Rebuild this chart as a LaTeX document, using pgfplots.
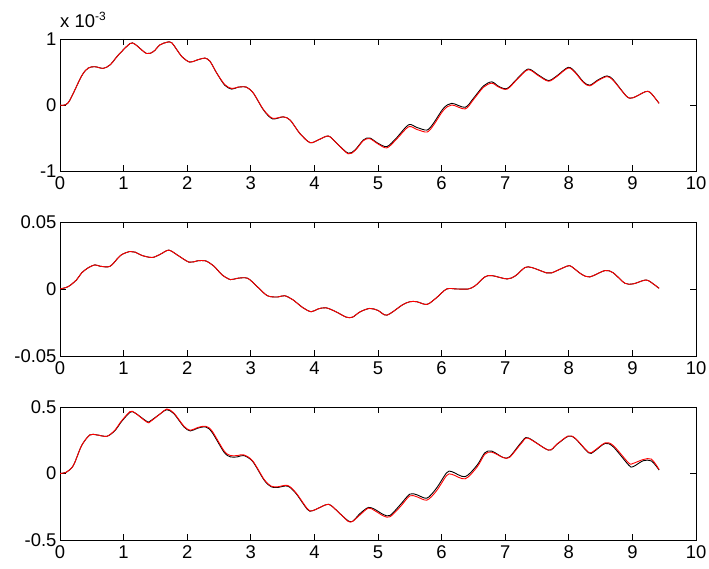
\documentclass[border=0pt]{standalone}
\usepackage{fontspec}
\setmainfont{Liberation Sans}
\usepackage{pgfplots}
\usepackage{pgfplotstable}
\pgfplotsset{compat=1.18}

\pgfplotstableread{
x y
0 0
0.13 0.035
0.34 0.44
0.445 0.56
0.55 0.58
0.68 0.555
0.79 0.61
0.92 0.76
1.10 0.93
1.18 0.92
1.36 0.78
1.47 0.81
1.57 0.91
1.68 0.95
1.76 0.94
1.91 0.74
2.04 0.65
2.15 0.68
2.28 0.71
2.36 0.66
2.46 0.49
2.59 0.30
2.70 0.24
2.80 0.27
2.93 0.27
3.04 0.18
3.20 -0.076
3.34 -0.21
3.51 -0.18
3.62 -0.23
3.77 -0.43
3.93 -0.57
4.06 -0.53
4.22 -0.47
4.35 -0.58
4.53 -0.73
4.64 -0.68
4.77 -0.53
4.87 -0.50
5.00 -0.58
5.14 -0.63
5.29 -0.50
5.48 -0.30
5.61 -0.34
5.77 -0.38
5.87 -0.28
6.03 -0.05
6.16 0.025
6.37 -0.035
6.50 0.10
6.66 0.29
6.79 0.35
6.90 0.28
7.03 0.25
7.19 0.40
7.36 0.545
7.52 0.455
7.68 0.37
7.81 0.44
7.99 0.57
8.10 0.50
8.23 0.35
8.33 0.30
8.46 0.38
8.60 0.44
8.70 0.38
8.91 0.13
9.01 0.11
9.20 0.20
9.28 0.19
9.42 0.025
}\upblack

\pgfplotstableread{
x y
0 0
0.13 0.035
0.34 0.44
0.445 0.56
0.55 0.58
0.68 0.555
0.79 0.61
0.92 0.76
1.10 0.93
1.18 0.92
1.36 0.78
1.47 0.81
1.57 0.91
1.68 0.95
1.76 0.94
1.91 0.74
2.04 0.65
2.15 0.68
2.28 0.71
2.36 0.66
2.46 0.49
2.59 0.31
2.70 0.25
2.80 0.27
2.93 0.27
3.04 0.18
3.20 -0.07
3.34 -0.20
3.51 -0.18
3.62 -0.23
3.77 -0.43
3.93 -0.57
4.06 -0.53
4.22 -0.47
4.35 -0.58
4.53 -0.74
4.64 -0.69
4.77 -0.54
4.87 -0.51
5.00 -0.59
5.14 -0.65
5.29 -0.52
5.48 -0.33
5.61 -0.37
5.77 -0.41
5.87 -0.31
6.03 -0.08
6.16 0.00
6.37 -0.06
6.50 0.08
6.66 0.27
6.79 0.33
6.90 0.27
7.03 0.24
7.19 0.39
7.36 0.535
7.52 0.445
7.68 0.36
7.81 0.43
7.99 0.56
8.10 0.49
8.23 0.34
8.33 0.29
8.46 0.37
8.60 0.43
8.70 0.37
8.91 0.13
9.01 0.11
9.20 0.20
9.28 0.19
9.42 0.025
}\upred

\pgfplotstableread{
x y
0 0
0.13 0.0018
0.26 0.0068
0.34 0.012
0.45 0.016
0.55 0.018
0.63 0.017
0.79 0.017
0.95 0.025
1.10 0.028
1.18 0.0275
1.29 0.025
1.45 0.0235
1.58 0.026
1.71 0.029
1.84 0.0255
2.03 0.020
2.16 0.021
2.29 0.021
2.42 0.017
2.55 0.0105
2.68 0.007
2.79 0.008
2.95 0.008
3.10 0.0018
3.26 -0.005
3.42 -0.006
3.53 -0.005
3.66 -0.008
3.82 -0.014
3.95 -0.017
4.05 -0.015
4.18 -0.014
4.34 -0.017
4.50 -0.021
4.60 -0.021
4.72 -0.017
4.87 -0.0145
5.00 -0.016
5.14 -0.0195
5.38 -0.012
5.50 -0.0095
5.61 -0.0095
5.77 -0.0115
5.92 -0.0065
6.08 0
6.24 0
6.42 0
6.53 0.0025
6.68 0.009
6.79 0.010
7.03 0.0075
7.16 0.0098
7.31 0.016
7.42 0.016
7.65 0.012
7.73 0.012
7.97 0.017
8.04 0.0168
8.20 0.011
8.33 0.009
8.57 0.0138
8.70 0.012
8.88 0.0043
9.01 0.0038
9.17 0.0063
9.25 0.0063
9.42 0.0005
}\midblack

\pgfplotstableread{
x y
0 0
0.10 0.01
0.21 0.06
0.34 0.21
0.47 0.29
0.58 0.29
0.74 0.28
0.87 0.325
0.95 0.38
1.10 0.46
1.18 0.455
1.37 0.39
1.42 0.395
1.58 0.45
1.68 0.48
1.79 0.45
1.95 0.35
2.05 0.32
2.16 0.34
2.29 0.35
2.39 0.31
2.58 0.16
2.68 0.125
2.79 0.125
2.89 0.135
3.03 0.09
3.21 -0.05
3.32 -0.10
3.42 -0.105
3.58 -0.095
3.71 -0.15
3.89 -0.27
3.97 -0.28
4.18 -0.235
4.26 -0.24
4.42 -0.31
4.53 -0.355
4.60 -0.36
4.72 -0.30
4.85 -0.255
4.95 -0.27
5.09 -0.31
5.19 -0.315
5.35 -0.235
5.50 -0.155
5.61 -0.16
5.77 -0.185
5.92 -0.11
6.08 0.006
6.16 0.014
6.37 -0.024
6.56 0.064
6.68 0.156
6.79 0.168
6.97 0.12
7.07 0.126
7.26 0.238
7.36 0.268
7.68 0.176
7.81 0.218
7.99 0.28
8.10 0.263
8.31 0.156
8.39 0.163
8.57 0.226
8.70 0.20
8.94 0.064
9.01 0.051
9.17 0.096
9.30 0.094
9.42 0.026
}\lowblack

\pgfplotstableread{
x y
0 0
0.10 0.01
0.21 0.06
0.34 0.21
0.47 0.29
0.58 0.29
0.74 0.28
0.87 0.33
0.95 0.385
1.10 0.465
1.18 0.455
1.37 0.385
1.42 0.39
1.58 0.45
1.68 0.485
1.79 0.455
1.95 0.355
2.05 0.325
2.16 0.345
2.29 0.355
2.39 0.32
2.58 0.17
2.68 0.135
2.79 0.135
2.89 0.14
3.03 0.095
3.21 -0.045
3.32 -0.095
3.42 -0.10
3.58 -0.09
3.71 -0.145
3.89 -0.265
3.97 -0.28
4.18 -0.235
4.26 -0.24
4.42 -0.31
4.53 -0.36
4.60 -0.36
4.72 -0.31
4.85 -0.26
4.95 -0.28
5.09 -0.32
5.19 -0.325
5.35 -0.25
5.50 -0.168
5.61 -0.175
5.77 -0.20
5.92 -0.13
6.08 -0.015
6.16 -0.006
6.37 -0.04
6.56 0.05
6.68 0.145
6.79 0.16
6.97 0.12
7.07 0.122
7.26 0.23
7.36 0.265
7.68 0.176
7.81 0.22
7.99 0.282
8.10 0.265
8.31 0.16
8.39 0.168
8.57 0.23
8.70 0.21
8.94 0.08
9.01 0.076
9.17 0.105
9.30 0.108
9.42 0.03
}\lowred

\pgfplotsset{
  mstyle/.style={
    scale only axis,
    anchor=south west,
    width=636bp,
    xmin=0, xmax=10,
    xtick={0,1,...,10},
    major tick length=6bp,
    tick align=inside,
    scaled y ticks=false,
    scaled x ticks=false,
    axis line style={line width=0.8bp},
    every tick/.style={line width=0.8bp, black},
    tick label style={font=\fontsize{18.5}{20}\selectfont},
    /pgf/number format/assume math mode=true,
    xticklabel style={yshift=-2bp},
    xticklabels={0,1,2,3,4,5,6,7,8,9,10},
  },
  bl/.style={black, line width=0.9bp, smooth, tension=0.5},
  rd/.style={red, line width=0.9bp, smooth, tension=0.5},
}

\begin{document}
\begin{tikzpicture}[x=1bp,y=1bp]
\useasboundingbox (0,0) rectangle (709,569);

\begin{axis}[mstyle, at={(60bp,398bp)}, height=132bp,
  ymin=-1, ymax=1, ytick={-1,0,1}, yticklabels={-1,0,1}]
\addplot[bl] table[x=x,y=y] {\upblack};
\addplot[rd] table[x=x,y=y] {\upred};
\end{axis}
\node[anchor=base west, inner sep=0pt, font=\fontsize{18.5}{20}\selectfont] at (60bp,541bp) {x 10\raisebox{7bp}{\fontsize{12}{14}\selectfont -3}};

\begin{axis}[mstyle, at={(60bp,213bp)}, height=134bp,
  ymin=-0.05, ymax=0.05, ytick={-0.05,0,0.05}, yticklabels={-0.05,0,0.05}]
\addplot[bl] table[x=x,y=y] {\midblack};
\addplot[rd] table[x=x,y=y] {\midblack};
\end{axis}

\begin{axis}[mstyle, at={(60bp,29bp)}, height=133bp,
  ymin=-0.5, ymax=0.5, ytick={-0.5,0,0.5}, yticklabels={-0.5,0,0.5}]
\addplot[bl] table[x=x,y=y] {\lowblack};
\addplot[rd] table[x=x,y=y] {\lowred};
\end{axis}
\end{tikzpicture}
\end{document}
